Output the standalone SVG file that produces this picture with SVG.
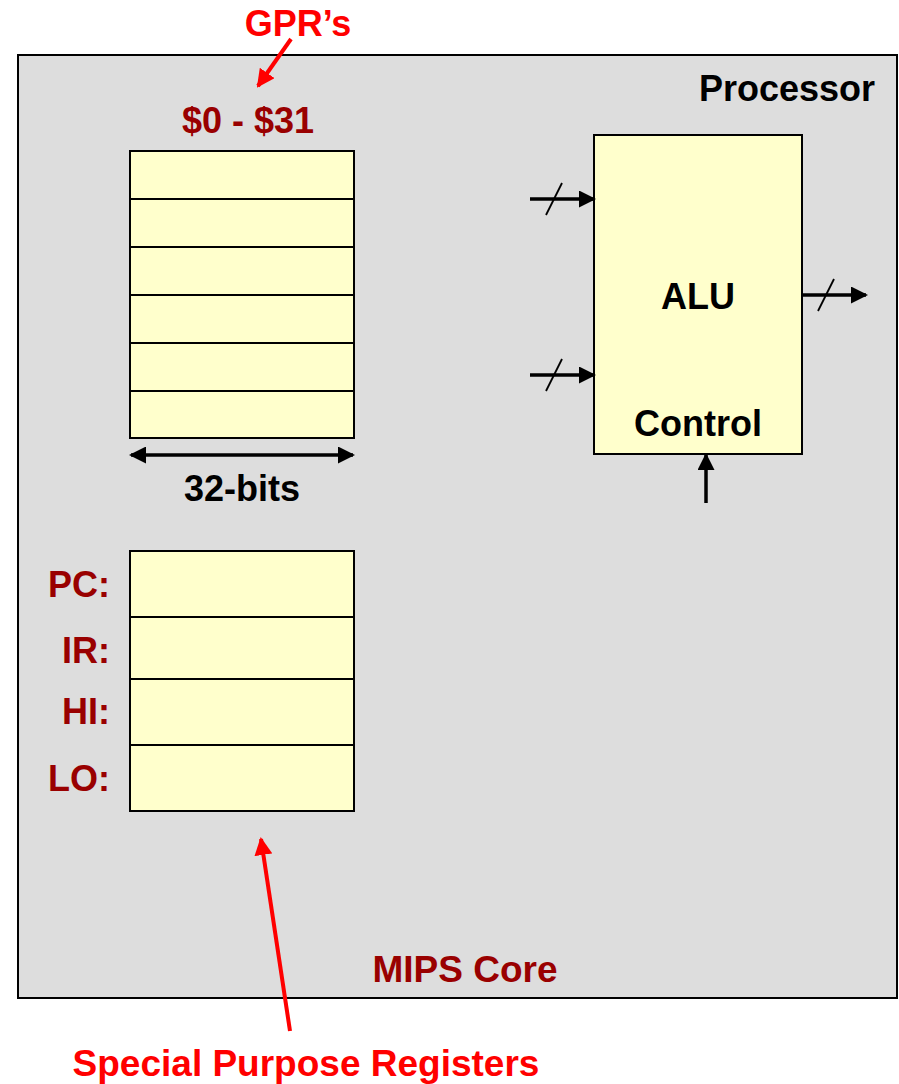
<svg xmlns="http://www.w3.org/2000/svg" width="899" height="1084" viewBox="0 0 899 1084">
<defs>
<style>
text{font-family:"Liberation Sans",Arial,sans-serif;font-weight:bold;font-size:36px}
.dr{fill:#990000}
.rd{fill:#ff0000}
.bk{fill:#000}
.reg{fill:#ffffcc;stroke:#000;stroke-width:2}
.wire{stroke:#000;stroke-width:3.5;fill:none}
.slash{stroke:#000;stroke-width:1.8}
.rarrow{stroke:#ff0000;stroke-width:4;fill:none}
</style>
<marker id="ah" markerUnits="userSpaceOnUse" markerWidth="17" markerHeight="17" refX="15" refY="8.5" orient="auto-start-reverse" viewBox="0 0 17 17">
<path d="M0,0 L17,8.5 L0,17 z" fill="#000"/>
</marker>
<marker id="rah" markerUnits="userSpaceOnUse" markerWidth="18" markerHeight="18" refX="16" refY="9" orient="auto" viewBox="0 0 18 18">
<path d="M0,0 L18,9 L0,18 z" fill="#ff0000"/>
</marker>
</defs>
<rect width="899" height="1084" fill="#fff"/>
<g id="processor">
<rect x="18" y="55" width="879" height="943" fill="#dddddd" stroke="#000" stroke-width="2"/>
<text x="875" y="101" text-anchor="end" class="bk">Processor</text>
<text x="465" y="982" text-anchor="middle" class="dr" style="font-size:37px">MIPS Core</text>
</g>
<g id="gpr">
<text x="248" y="133" text-anchor="middle" class="dr">$0 - $31</text>
<rect class="reg" x="130" y="151" width="224" height="48"/>
<rect class="reg" x="130" y="199" width="224" height="48"/>
<rect class="reg" x="130" y="247" width="224" height="48"/>
<rect class="reg" x="130" y="295" width="224" height="48"/>
<rect class="reg" x="130" y="343" width="224" height="48"/>
<rect class="reg" x="130" y="391" width="224" height="47"/>
<text x="242" y="501" text-anchor="middle" class="bk">32-bits</text>
</g>
<g id="spr">
<rect class="reg" x="130" y="551" width="224" height="66"/>
<rect class="reg" x="130" y="617" width="224" height="62"/>
<rect class="reg" x="130" y="679" width="224" height="66"/>
<rect class="reg" x="130" y="745" width="224" height="66"/>
<text x="110" y="597" text-anchor="end" class="dr">PC:</text>
<text x="110" y="663" text-anchor="end" class="dr">IR:</text>
<text x="110" y="724" text-anchor="end" class="dr">HI:</text>
<text x="110" y="791" text-anchor="end" class="dr">LO:</text>
</g>
<g id="alu">
<rect class="reg" x="594" y="135" width="208" height="319"/>
<text x="698" y="309" text-anchor="middle" class="bk">ALU</text>
<text x="698" y="436" text-anchor="middle" class="bk">Control</text>
</g>
<g id="gpr-label">
<text x="298" y="36" text-anchor="middle" class="rd">GPR’s</text>
</g>
<g id="spr-label">
<text x="306" y="1076" text-anchor="middle" class="rd" style="font-size:37px">Special Purpose Registers</text>
</g>
<g id="connectors">
<line class="wire" x1="131" y1="455" x2="353" y2="455" marker-start="url(#ah)" marker-end="url(#ah)"/>
<line class="wire" x1="530" y1="199" x2="594" y2="199" marker-end="url(#ah)"/>
<line class="slash" x1="546" y1="215" x2="562" y2="183"/>
<line class="wire" x1="530" y1="375" x2="594" y2="375" marker-end="url(#ah)"/>
<line class="slash" x1="546" y1="391" x2="562" y2="359"/>
<line class="wire" x1="802" y1="295" x2="866" y2="295" marker-end="url(#ah)"/>
<line class="slash" x1="818" y1="311" x2="834" y2="279"/>
<line class="wire" x1="706" y1="503" x2="706" y2="455" marker-end="url(#ah)"/>
<line class="rarrow" x1="291" y1="39" x2="258" y2="86" marker-end="url(#rah)"/>
<line class="rarrow" x1="290" y1="1031" x2="261" y2="839" marker-end="url(#rah)"/>
</g>
</svg>
